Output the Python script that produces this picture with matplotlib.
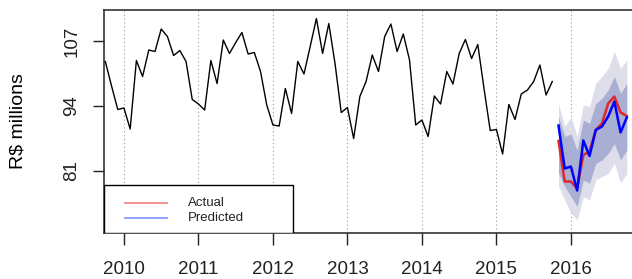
import numpy as np
import matplotlib
matplotlib.use("Agg")
import matplotlib.pyplot as plt
from matplotlib.patches import Rectangle

plt.rcParams['font.family'] = ['Liberation Sans', 'DejaVu Sans']

# monthly series, Oct 2009 .. Oct 2015 (R$ millions)
hist_start = (2009, 10)
hist = [102.9, 98.0, 93.3, 93.6, 89.4, 103.1, 99.9, 105.2, 104.9, 109.4, 107.9, 104.1,
        105.1, 102.9, 95.3, 94.4, 93.2, 103.1, 98.5, 107.2, 104.5, 106.7, 108.7, 104.4,
        104.7, 100.9, 94.2, 90.2, 90.0, 97.5, 92.5, 102.9, 100.4, 105.9, 111.5, 104.5,
        110.5, 102.5, 92.7, 93.7, 87.5, 95.9, 98.9, 104.2, 100.9, 107.9, 110.4, 104.9,
        108.4, 103.2, 90.2, 91.2, 87.9, 96.0, 94.4, 100.9, 98.4, 104.5, 107.3, 103.5,
        106.3, 97.5, 89.1, 89.3, 84.4, 94.3, 91.3, 96.4, 97.2, 98.9, 102.2, 96.2,
        98.9]

# forecast window, Nov 2015 .. Oct 2016
fc_start = (2015, 11)
actual = [87.0, 78.9, 78.9, 77.5, 84.2, 84.9, 89.2, 90.5, 94.5, 95.9, 92.7, 92.0]
predicted = [90.1, 81.5, 81.9, 77.1, 87.1, 84.0, 89.2, 89.9, 91.9, 94.9, 88.7, 91.7]
lo80 = [80.6, 77.9, 75.9, 73.9, 79.2, 78.6, 82.5, 83.2, 84.5, 86.5, 83.2, 85.2]
hi80 = [91.9, 87.9, 88.4, 85.2, 91.2, 90.5, 94.5, 95.5, 97.2, 99.9, 96.5, 98.5]
lo95 = [77.9, 75.2, 72.6, 71.2, 75.9, 75.2, 79.2, 79.9, 80.5, 82.6, 78.6, 80.5]
hi95 = [94.5, 89.9, 91.9, 87.9, 94.2, 93.9, 98.5, 99.9, 101.5, 104.9, 101.5, 103.2]

years = [2010, 2011, 2012, 2013, 2014, 2015, 2016]
yticks = [81, 94, 107]


def to_time(start, n):
    return start[0] + (start[1] - 1 + np.arange(n)) / 12.0


t_hist = to_time(hist_start, len(hist))
t_fc = to_time(fc_start, len(actual))

fig = plt.figure(figsize=(6.32, 2.79), dpi=100, facecolor='white')
ax = fig.add_axes([104 / 632, 46 / 279, 1 - 104 / 632, 223 / 279])

ax.fill_between(t_fc, lo95, hi95, color='#dddeea', lw=0, zorder=1)
ax.fill_between(t_fc, lo80, hi80, color='#a9aed3', lw=0, zorder=2)
ax.plot(t_hist, hist, color='black', lw=1.0, zorder=3)
ax.plot(t_fc, actual, color='#e02828', lw=1.8, zorder=4)
ax.plot(t_fc, predicted, color='#0000ff', lw=1.8, zorder=5)

ax.set_xlim(2009.732, 2016.82)
ax.set_ylim(68.6, 113.2)

ax.set_xticks(years)
ax.set_xticklabels([str(y) for y in years])
ax.set_yticks(yticks)
ax.set_yticklabels([str(v) for v in yticks], rotation=90, va='center')
ax.tick_params(axis='x', length=8.5, width=1, pad=12, labelsize=13.5, colors='#222222')
ax.tick_params(axis='y', length=8, width=1, pad=9, labelsize=13.5, colors='#222222')
ax.grid(axis='x', linestyle=(0, (1, 2.5)), color='#999999', lw=0.8)
ax.set_axisbelow(True)

for s in ['top', 'left', 'bottom']:
    ax.spines[s].set_linewidth(1.2)
    ax.spines[s].set_color('#333333')
ax.spines['right'].set_visible(False)

ax.set_ylabel('R$ millions', fontsize=14)
ax.yaxis.set_label_coords(-0.146, 0.5)

# legend box in the lower-left corner
lw_box, lh_box = (293 - 104) / 528, (233 - 185) / 223
ax.add_patch(Rectangle((0, 0), lw_box, lh_box, transform=ax.transAxes,
                       facecolor='white', edgecolor='black', lw=1.0, zorder=6))
for yy, col, lab in [(0.136, '#e02828', 'Actual'), (0.066, '#2244ff', 'Predicted')]:
    ax.plot([0.040, 0.119], [yy, yy], transform=ax.transAxes, color=col,
            alpha=0.6, lw=1.2, zorder=7)
    ax.text(0.159, yy, lab, transform=ax.transAxes, va='center', ha='left',
            fontsize=9.5, color='#222222', zorder=7)

fig.savefig('out.png', dpi=100)
